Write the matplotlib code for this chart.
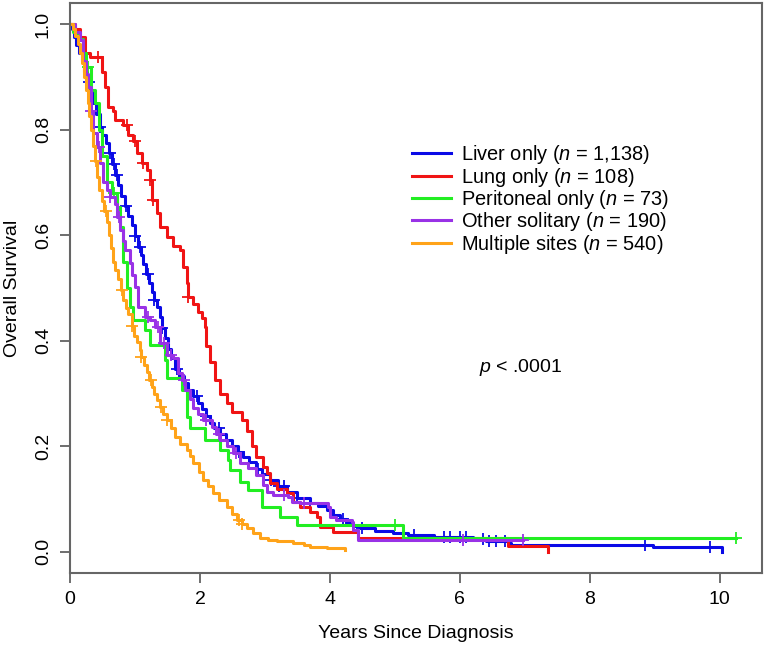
import numpy as np
import matplotlib.pyplot as plt

plt.rcParams['font.family'] = ['Liberation Sans', 'DejaVu Sans']
plt.rcParams['mathtext.fontset'] = 'custom'
plt.rcParams['mathtext.it'] = 'Liberation Sans:italic'
plt.rcParams['mathtext.rm'] = 'Liberation Sans'

# Kaplan-Meier knots (years, survival)
liver_t = [0, 0.03, 0.06, 0.1, 0.14, 0.18, 0.22, 0.26, 0.31, 0.35, 0.4, 0.46, 0.5, 0.55, 0.6, 0.65, 0.69,
           0.74, 0.79, 0.85, 0.9, 0.95, 1.0, 1.05, 1.09, 1.13, 1.17, 1.21, 1.26, 1.3, 1.34, 1.38, 1.42, 1.46,
           1.51, 1.56, 1.62, 1.68, 1.75, 1.82, 1.9, 1.97, 2.03, 2.1, 2.16, 2.22, 2.31, 2.4, 2.5, 2.58, 2.66,
           2.76, 2.86, 2.96, 3.08, 3.2, 3.34, 3.5, 3.69, 3.82, 3.95, 4.05, 4.15, 4.25, 4.35, 4.46, 4.7, 4.97,
           5.2, 5.6, 6.2, 6.4, 6.74, 6.78, 8.97, 10.03]
liver_s = [1.0, 0.99, 0.975, 0.96, 0.945, 0.93, 0.91, 0.89, 0.87, 0.85, 0.83, 0.805, 0.79, 0.775, 0.755,
           0.735, 0.715, 0.695, 0.675, 0.655, 0.637, 0.62, 0.598, 0.578, 0.562, 0.545, 0.527, 0.51, 0.492,
           0.478, 0.464, 0.445, 0.425, 0.405, 0.385, 0.367, 0.347, 0.333, 0.32, 0.307, 0.295, 0.283, 0.27,
           0.258, 0.245, 0.235, 0.224, 0.212, 0.2, 0.19, 0.18, 0.17, 0.158, 0.147, 0.136, 0.125, 0.114,
           0.103, 0.093, 0.087, 0.08, 0.07, 0.062, 0.055, 0.05, 0.045, 0.04, 0.036, 0.032, 0.028, 0.024,
           0.021, 0.016, 0.013, 0.009, 0.0]
liver_cens = [0.3, 0.46, 0.62, 0.68, 0.72, 0.86, 1.0, 1.08, 1.2, 1.3, 1.42, 1.65, 1.95, 2.1, 2.3, 2.6,
              2.9, 3.1, 3.22, 3.3, 3.5, 3.7, 4.2, 4.5, 5.3, 5.75, 5.85, 6.0, 6.1, 6.35, 6.45, 6.55, 6.7, 8.85, 9.85]

lung_t = [0, 0.08, 0.15, 0.23, 0.31, 0.49, 0.54, 0.58, 0.66, 0.69, 0.82, 0.89, 0.97, 1.03, 1.11, 1.18, 1.23,
          1.26, 1.34, 1.38, 1.49, 1.58, 1.69, 1.74, 1.8, 1.82, 1.9, 1.97, 2.03, 2.08, 2.1, 2.15, 2.23, 2.31,
          2.41, 2.5, 2.64, 2.72, 2.8, 2.87, 2.97, 3.03, 3.08, 3.18, 3.34, 3.43, 3.54, 3.69, 3.8, 3.85, 4.05,
          4.43, 6.74, 7.35]
lung_s = [1.0, 0.99, 0.975, 0.945, 0.937, 0.91, 0.88, 0.843, 0.835, 0.818, 0.808, 0.79, 0.778, 0.755, 0.737,
          0.723, 0.705, 0.667, 0.642, 0.616, 0.597, 0.58, 0.572, 0.54, 0.51, 0.483, 0.47, 0.455, 0.443, 0.426,
          0.39, 0.36, 0.326, 0.30, 0.282, 0.265, 0.25, 0.23, 0.2, 0.18, 0.161, 0.15, 0.13, 0.12, 0.112, 0.094,
          0.085, 0.076, 0.066, 0.047, 0.037, 0.027, 0.012, 0.0]
lung_cens = [0.43, 0.87, 1.0, 1.12, 1.23, 1.28, 1.82]

perit_t = [0, 0.05, 0.12, 0.2, 0.25, 0.33, 0.38, 0.45, 0.5, 0.57, 0.65, 0.72, 0.77, 0.82, 0.87, 0.92, 0.97,
           1.15, 1.23, 1.46, 1.49, 1.72, 1.8, 1.85, 2.08, 2.31, 2.43, 2.46, 2.62, 2.74, 2.95, 3.23, 3.49, 5.12, 10.25]
perit_s = [1.0, 0.986, 0.972, 0.945, 0.918, 0.875, 0.85, 0.80, 0.75, 0.70, 0.68, 0.653, 0.616, 0.55, 0.50,
           0.464, 0.44, 0.42, 0.392, 0.364, 0.33, 0.307, 0.256, 0.235, 0.212, 0.193, 0.174, 0.155, 0.133,
           0.117, 0.085, 0.066, 0.051, 0.026, 0.026]
perit_cens = [0.27, 0.67, 5.0, 10.25]

other_t = [0, 0.08, 0.15, 0.2, 0.24, 0.28, 0.32, 0.35, 0.41, 0.46, 0.51, 0.57, 0.62, 0.69, 0.73, 0.77, 0.81,
           0.85, 0.92, 0.96, 1.0, 1.05, 1.15, 1.23, 1.31, 1.38, 1.49, 1.58, 1.66, 1.72, 1.77, 1.84, 1.9, 1.97,
           2.05, 2.18, 2.25, 2.31, 2.42, 2.51, 2.62, 2.74, 2.87, 2.97, 3.03, 3.12, 3.35, 3.41, 3.54, 3.97, 4.0,
           4.1, 4.34, 4.35, 4.43, 6.97]
other_s = [1.0, 0.985, 0.97, 0.93, 0.905, 0.88, 0.835, 0.793, 0.767, 0.737, 0.70, 0.685, 0.672, 0.66, 0.635,
           0.61, 0.59, 0.572, 0.547, 0.525, 0.502, 0.464, 0.445, 0.44, 0.426, 0.396, 0.373, 0.367, 0.339,
           0.326, 0.307, 0.29, 0.272, 0.262, 0.25, 0.237, 0.224, 0.212, 0.2, 0.187, 0.169, 0.159, 0.146,
           0.127, 0.114, 0.108, 0.104, 0.095, 0.093, 0.085, 0.066, 0.06, 0.057, 0.042, 0.023, 0.023]
other_cens = [0.33, 0.45, 0.62, 0.75, 1.2, 1.35, 1.45, 1.55, 1.75, 2.1, 2.3, 2.55, 3.3, 3.6, 6.05, 6.97]

multi_t = [0, 0.04, 0.08, 0.12, 0.15, 0.18, 0.21, 0.24, 0.27, 0.3, 0.33, 0.36, 0.39, 0.42, 0.45, 0.49, 0.53,
           0.57, 0.6, 0.63, 0.66, 0.7, 0.74, 0.78, 0.82, 0.86, 0.9, 0.95, 0.99, 1.03, 1.07, 1.1, 1.14, 1.18,
           1.22, 1.26, 1.3, 1.34, 1.38, 1.43, 1.49, 1.55, 1.62, 1.7, 1.8, 1.85, 1.9, 1.98, 2.05, 2.12, 2.2,
           2.3, 2.41, 2.49, 2.57, 2.65, 2.72, 2.82, 2.92, 3.05, 3.18, 3.43, 3.6, 3.69, 3.95, 4.23]
multi_s = [1.0, 0.99, 0.978, 0.962, 0.945, 0.926, 0.9, 0.875, 0.85, 0.825, 0.8, 0.77, 0.74, 0.71, 0.685,
           0.665, 0.645, 0.625, 0.6, 0.575, 0.55, 0.535, 0.518, 0.497, 0.477, 0.463, 0.45, 0.428, 0.41, 0.397,
           0.382, 0.37, 0.355, 0.34, 0.326, 0.313, 0.3, 0.288, 0.275, 0.262, 0.25, 0.234, 0.218, 0.205,
           0.193, 0.181, 0.169, 0.152, 0.137, 0.124, 0.112, 0.098, 0.085, 0.072, 0.06, 0.052, 0.045, 0.036,
           0.027, 0.023, 0.02, 0.017, 0.013, 0.01, 0.007, 0.004]
multi_cens = [0.4, 0.55, 0.8, 0.95, 1.1, 1.25, 1.4, 1.5, 2.6, 2.65]

labels = [r"Liver only ($\it{n}$ = 1,138)", r"Lung only ($\it{n}$ = 108)",
          r"Peritoneal only ($\it{n}$ = 73)", r"Other solitary ($\it{n}$ = 190)",
          r"Multiple sites ($\it{n}$ = 540)"]
colors = ['#0A0AE6', '#F01414', '#22EE22', '#9932E6', '#FFA319']
groups = [(liver_t, liver_s, liver_cens), (lung_t, lung_s, lung_cens), (perit_t, perit_s, perit_cens),
          (other_t, other_s, other_cens), (multi_t, multi_s, multi_cens)]

fig = plt.figure(figsize=(7.65, 6.45), dpi=100)
ax = fig.add_axes([70 / 765, 72 / 645, 692 / 765, 570 / 645])

for (t, s, c), col, lab in zip(groups, colors, labels):
    t = np.array(t)
    s = np.array(s)
    ax.plot(t, s, drawstyle='steps-post', color=col, lw=2.2, label=lab)
    idx = np.searchsorted(t, c, side='right') - 1
    ax.plot(c, s[idx], ls='none', marker='+', ms=9, mew=1.3, color=col)

ax.set_xlim(0, 10.65)
ax.set_ylim(-0.04, 1.04)
ax.set_xticks([0, 2, 4, 6, 8, 10])
ax.set_yticks([0.0, 0.2, 0.4, 0.6, 0.8, 1.0])
ax.set_yticklabels(['0.0', '0.2', '0.4', '0.6', '0.8', '1.0'], rotation=90, va='center')
ax.tick_params(direction='out', length=7, width=1.2, color='#555555', labelsize=14, pad=6)
for sp in ax.spines.values():
    sp.set_color('#666666')
    sp.set_linewidth(1.5)

ax.set_xlabel("Years Since Diagnosis", fontsize=14, labelpad=12)
ax.set_ylabel("Overall Survival", fontsize=14, labelpad=10)

ax.legend(loc='upper left', bbox_to_anchor=(0.483, 0.768), frameon=False, fontsize=14.4,
          handlelength=1.95, handletextpad=0.5, labelspacing=-0.03, borderaxespad=0)
ax.text(6.3, 0.35, r"$\it{p}$ < .0001", fontsize=14, ha='left', va='center')

plt.savefig("out.png", dpi=100)
